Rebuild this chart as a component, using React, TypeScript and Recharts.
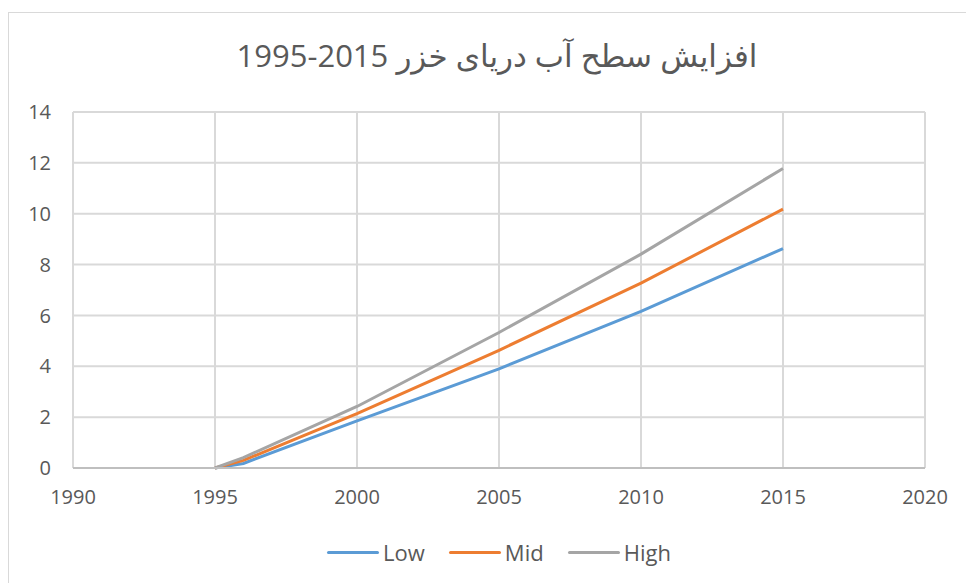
import { CartesianGrid, Line, LineChart, XAxis, YAxis } from "recharts";

const years = [1995, 1996, 2000, 2005, 2010, 2015];
const low = [0, 0.18, 1.85, 3.9, 6.16, 8.63];
const mid = [0, 0.3, 2.14, 4.63, 7.27, 10.18];
const high = [0, 0.41, 2.42, 5.33, 8.41, 11.78];

const xTicks = [1990, 1995, 2000, 2005, 2010, 2015, 2020];
const yTicks = [0, 2, 4, 6, 8, 10, 12, 14];

const titleText = "افزایش سطح آب دریای خزر";
const titleYears = "1995-2015";

const series = [
  { key: "low", name: "Low", color: "#5b9bd5" },
  { key: "mid", name: "Mid", color: "#ed7d31" },
  { key: "high", name: "High", color: "#a5a5a5" },
];

const data = years.map((year, i) => ({ year, low: low[i], mid: mid[i], high: high[i] }));

const font = "'Open Sans', 'DejaVu Sans', sans-serif";
const textColor = "#595959";

export default function App() {
  return (
    <div style={{ position: "fixed", left: 0, top: 0, width: 966, height: 583, overflow: "hidden", background: "#fff", fontFamily: font }}>
      <div style={{ position: "absolute", left: 8, top: 12, width: 1000, height: 620, border: "1.5px solid #d9d9d9" }} />
      <div
        dir="rtl"
        style={{
          position: "absolute",
          left: 0,
          width: 994,
          top: 34,
          textAlign: "center",
          fontSize: 31,
          color: textColor,
          whiteSpace: "nowrap",
        }}
      >
        {titleText}{" "}
        <span style={{ direction: "ltr", unicodeBidi: "isolate" }}>{titleYears}</span>
      </div>
      <div style={{ position: "absolute", left: 0, top: 0 }}>
        <LineChart width={966} height={583} data={data} margin={{ top: 112, right: 41, left: 13, bottom: 85 }}>
          <CartesianGrid stroke="#d9d9d9" strokeWidth={2} />
          <XAxis
            dataKey="year"
            type="number"
            domain={[1990, 2020]}
            ticks={xTicks}
            height={30}
            axisLine={{ stroke: "#bfbfbf", strokeWidth: 2 }}
            tickLine={false}
            tickMargin={16}
            tick={{ fill: textColor, fontSize: 20, fontFamily: font }}
          />
          <YAxis
            type="number"
            domain={[0, 14]}
            ticks={yTicks}
            width={60}
            axisLine={false}
            tickLine={false}
            tickMargin={16}
            tick={{ fill: textColor, fontSize: 20, fontFamily: font }}
          />
          {series.map((s) => (
            <Line
              key={s.key}
              dataKey={s.key}
              name={s.name}
              type="linear"
              stroke={s.color}
              strokeWidth={3}
              dot={false}
              isAnimationActive={false}
            />
          ))}
        </LineChart>
      </div>
      <div
        style={{
          position: "absolute",
          left: 0,
          width: 998,
          top: 537,
          display: "flex",
          justifyContent: "center",
          gap: 24,
          fontSize: 22,
          color: textColor,
        }}
      >
        {series.map((s) => (
          <div key={s.key} style={{ display: "flex", alignItems: "center", gap: 4 }}>
            <span style={{ display: "inline-block", width: 52, height: 3, borderRadius: 2, background: s.color }} />
            <span>{s.name}</span>
          </div>
        ))}
      </div>
    </div>
  );
}
